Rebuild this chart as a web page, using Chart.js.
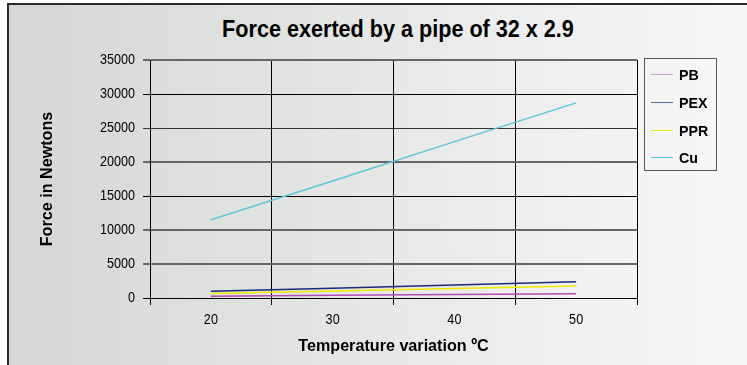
<!DOCTYPE html>
<html>
<head>
<meta charset="utf-8">
<script src="https://cdn.jsdelivr.net/npm/chart.js@4.4.0/dist/chart.umd.min.js"></script>
<style>
html, body { margin: 0; padding: 0; background: #fff; }
#wrap { position: relative; width: 747px; height: 365px; overflow: hidden; background: #fff; }
#frame { position: absolute; left: 7px; top: 3px; width: 800px; height: 400px;
  border-left: 2px solid #2b2b2b; border-top: 2px solid #2b2b2b;
  background: linear-gradient(to right, #d4d7d4, #f8f8f8 92%); }
#title { position: absolute; left: 0; top: 12px; width: 778px; text-align: center;
  font: bold 24px/24px "Liberation Sans", Arial, sans-serif; color: #000;
  transform: scaleX(0.9); transform-origin: center; }
canvas { position: absolute; left: 0; top: 0; }
#legend { position: absolute; left: 644px; top: 58px; width: 73px; height: 113px;
  border: 1px solid #555; padding-top: 2px; box-sizing: border-box; }
.item { height: 27.7px; display: flex; align-items: center;
  font: bold 15px "Liberation Sans", Arial, sans-serif; color: #000; }
.item span.t { display: inline-block; transform: scaleX(0.95); transform-origin: left center; }
.swatch { width: 22px; height: 0; border-top: 1.5px solid; margin-left: 6px; margin-right: 6px; }
</style>
</head>
<body>
<div id="wrap">
  <div id="frame"><div id="title">Force exerted by a pipe of 32 x 2.9</div></div>
  <canvas id="chart" width="747" height="365"></canvas>
  <div id="legend"></div>
</div>
<script>
// ===== 数据 =====
const temps = ['20', '30', '40', '50'];
const seriesNames = ['PB', 'PEX', 'PPR', 'Cu'];
const pbForce = [260, 390, 510, 640];
const pexForce = [980, 1450, 1920, 2400];
const pprForce = [680, 1030, 1380, 1750];
const cuForce = [11500, 17200, 23000, 28700];
const yTicks = [0, 5000, 10000, 15000, 20000, 25000, 30000, 35000];

const seriesColors = ['#b04cb4', '#1d2a78', '#eeea00', '#5cc6da'];
const legendColors = ['#c9a2d2', '#5a6898', '#e8e800', '#4cc8dc'];

const FONT = "'Liberation Sans', Arial, sans-serif";

// y 网格线颜色（按刻度从下往上）
const yGridColors = ['#000', '#666', '#666', '#000', '#666', '#333', '#000', '#666'];
const yGridWidths = [1, 2, 2, 1, 2, 1, 1, 2];

// 窄体字：没有 Helvetica Condensed，只能把画布上的文字横向压缩
const narrowText = {
    id: 'narrowText',
    beforeDraw(chart) {
        const c = chart.ctx;
        if (c._narrow) return;
        const orig = c.fillText.bind(c);
        c.fillText = function(text, x, y, maxWidth) {
            const k = c.font.indexOf('bold') === 0 ? 0.95 : 0.84;
            c.save();
            c.translate(x, y);
            c.scale(k, 1);
            if (maxWidth === undefined) orig(text, 0, 0);
            else orig(text, 0, 0, maxWidth / k);
            c.restore();
        };
        c._narrow = true;
    }
};

const ctx = document.getElementById('chart');
const chart = new Chart(ctx, {
    type: 'line',
    data: {
        labels: temps,
        datasets: [pbForce, pexForce, pprForce, cuForce].map((d, i) => ({
            label: seriesNames[i],
            data: d,
            borderColor: seriesColors[i],
            backgroundColor: seriesColors[i],
            borderWidth: 1.5,
            pointRadius: 0,
            tension: 0,
            fill: false
        }))
    },
    plugins: [narrowText],
    options: {
        responsive: false,
        animation: false,
        layout: { padding: { left: 10, right: 110, top: 60, bottom: 0 } },
        plugins: {
            legend: { display: false },
            title: { display: false },
            tooltip: { enabled: false }
        },
        scales: {
            x: {
                type: 'category',
                offset: true,
                grid: {
                    offset: true,
                    tickLength: 7,
                    color: c => c.index === temps.length ? '#777' : '#000',
                    lineWidth: c => c.index === temps.length ? 2 : 1
                },
                border: { display: true, color: '#000', width: 1 },
                ticks: { color: '#000', font: { family: FONT, size: 15 }, padding: 6, maxRotation: 0 },
                title: {
                    display: true,
                    text: 'Temperature variation ºC',
                    color: '#000',
                    font: { family: FONT, size: 17, weight: 'bold' },
                    padding: { top: 4, bottom: 8 }
                },
                afterFit: s => { s.height = 67; }
            },
            y: {
                min: 0,
                max: 35000,
                afterBuildTicks: s => { s.ticks = yTicks.map(v => ({ value: v })); },
                grid: {
                    tickLength: 7,
                    color: c => yGridColors[c.index] || '#000',
                    lineWidth: c => yGridWidths[c.index] || 1
                },
                border: { display: true, color: '#000', width: 1 },
                ticks: {
                    color: '#000',
                    font: { family: FONT, size: 15 },
                    padding: 8,
                    callback: v => String(v)
                },
                title: {
                    display: true,
                    text: 'Force in Newtons',
                    color: '#000',
                    font: { family: FONT, size: 17, weight: 'bold' },
                    padding: { top: 27, bottom: 4 }
                },
                afterFit: s => { s.width = 140; }
            }
        }
    }
});

// 图例
document.getElementById('legend').innerHTML = seriesNames.map((n, i) => `
    <div class="item"><span class="swatch" style="border-color:${legendColors[i]}"></span><span class="t">${n}</span></div>
`).join('');
</script>
</body>
</html>
